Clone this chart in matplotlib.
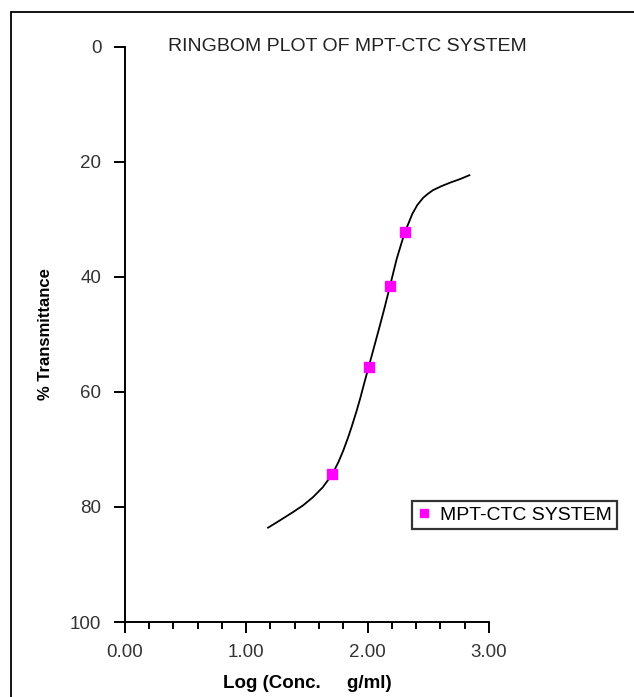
import matplotlib.pyplot as plt
from matplotlib.patches import Rectangle

plt.rcParams['font.family'] = ['Liberation Sans', 'DejaVu Sans']

# measured points (log conc vs % transmittance)
log_conc = [1.71, 2.01, 2.185, 2.31]
transmittance = [74.3, 55.6, 41.6, 32.1]

# smoothed trend line
curve_x = [1.18, 1.28, 1.385, 1.47, 1.55, 1.63, 1.71, 1.76, 1.80, 1.84, 1.87, 1.91,
           1.94, 1.97, 2.01, 2.05, 2.10, 2.14, 2.185, 2.24, 2.28, 2.31, 2.345, 2.37,
           2.41, 2.46, 2.50, 2.54, 2.61, 2.68, 2.76, 2.84]
curve_y = [83.6, 82.3, 80.9, 79.7, 78.3, 76.6, 74.3, 72.2, 70.2, 67.9, 66.0, 63.3,
           61.1, 58.7, 55.6, 52.5, 48.6, 45.4, 41.6, 36.9, 34.1, 32.1, 30.3, 29.0,
           27.5, 26.2, 25.5, 24.9, 24.2, 23.6, 23.0, 22.3]

fig = plt.figure(figsize=(6.34, 6.97), dpi=100)
ax = fig.add_axes([0.197, 0.1076, 0.574, 0.825])

ax.plot(curve_x, curve_y, color='black', linewidth=1.3, zorder=2,
        solid_joinstyle='round')
ax.plot(log_conc, transmittance, linestyle='none', marker='s', markersize=6.5,
        color='#ff00ff', label='MPT-CTC SYSTEM', zorder=3)

ax.set_xlim(0, 3)
ax.set_ylim(100, 0)
ax.set_xticks([0, 1, 2, 3])
ax.set_xticklabels(['0.00', '1.00', '2.00', '3.00'])
ax.set_xticks([i * 0.2 for i in range(16)], minor=True)
ax.set_yticks([0, 20, 40, 60, 80, 100])

for s in ['top', 'right']:
    ax.spines[s].set_visible(False)
for s in ['left', 'bottom']:
    ax.spines[s].set_linewidth(1.4)
ax.tick_params(axis='both', which='major', direction='out', length=8, width=1.4,
               labelsize=13.5, labelcolor='#333333')
ax.tick_params(axis='y', which='major', pad=9)
ax.tick_params(axis='x', which='major', pad=8)
ax.tick_params(axis='x', which='minor', direction='out', length=5, width=1.4)

ax.set_xlabel('Log (Conc.     g/ml)', fontsize=13.5, fontweight='bold', labelpad=10)
ax.set_ylabel('% Transmittance', fontsize=12, fontweight='bold', labelpad=12)

fig.text(0.548, 0.934, 'RINGBOM PLOT OF MPT-CTC SYSTEM', fontsize=14,
         ha='center', va='center', color='#222222')

leg = fig.legend(loc='center left', bbox_to_anchor=(0.65, 0.261), frameon=True,
                 fancybox=False, edgecolor='black', fontsize=14, handlelength=0.7,
                 handletextpad=0.5, borderpad=0.25, borderaxespad=0, markerscale=0.9)
leg.get_frame().set_linewidth(1.6)

# picture border
fig.patches.append(Rectangle((11 / 634, -0.1), 1.2, 1 - 12 / 697 + 0.1,
                             transform=fig.transFigure, fill=False,
                             edgecolor='black', linewidth=1.3))

fig.savefig('out.png', dpi=100)
